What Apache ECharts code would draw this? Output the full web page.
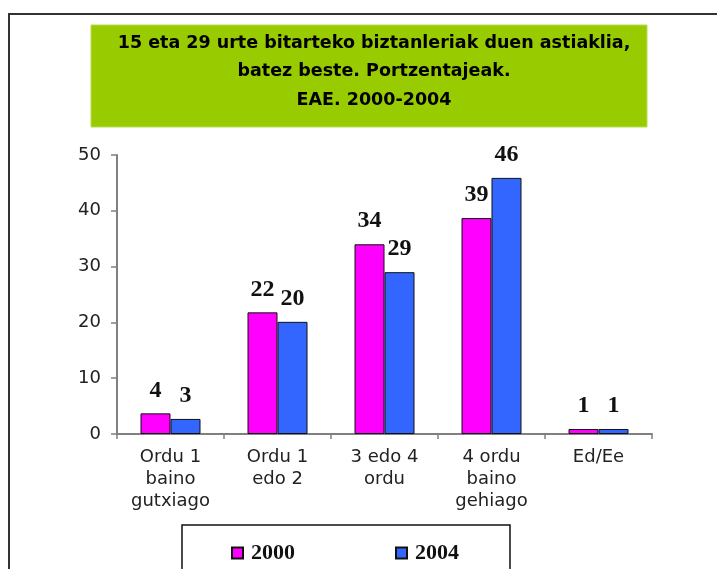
<!DOCTYPE html>
<html>
<head>
<meta charset="utf-8">
<script src="https://cdn.jsdelivr.net/npm/echarts@6/dist/echarts.min.js"></script>
<style>html,body{margin:0;padding:0;background:#fff}#c{width:717px;height:569px}</style>
</head>
<body>
<div id="c"></div>
<script>
const titleLines = ['15 eta 29 urte bitarteko biztanleriak duen astiaklia,', 'batez beste. Portzentajeak.', 'EAE. 2000-2004'];
const categories = ['Ordu 1\nbaino\ngutxiago', 'Ordu 1\nedo 2', '3 edo 4\nordu', '4 ordu\nbaino\ngehiago', 'Ed/Ee'];
const seriesNames = ['2000', '2004'];
const values2000 = [3.7, 21.8, 34.0, 38.7, 0.9];
const values2004 = [2.7, 20.1, 29.0, 45.9, 0.9];
const yTicks = { min: 0, max: 50, interval: 10 };

const chart = echarts.init(document.getElementById('c'), null, { renderer: 'canvas' });
const axisGrey = '#808080';
const labelStyle = {
  show: true, position: 'top', distance: 11,
  fontFamily: 'Liberation Serif', fontWeight: 'bold', fontSize: 24, color: '#111',
  formatter: p => Math.round(p.value)
};
chart.setOption({
  animation: false,
  backgroundColor: '#fff',
  graphic: [
    { type: 'rect', shape: { x: 9, y: 14, width: 760, height: 600 }, style: { fill: 'none', stroke: '#333', lineWidth: 2 }, z: 0 },
    { type: 'rect', shape: { x: 91, y: 25, width: 556, height: 102 }, style: { fill: '#99CC00', stroke: '#B8DC50', lineWidth: 1 }, z: 1 },
    { type: 'rect', shape: { x: 182, y: 525, width: 328, height: 80 }, style: { fill: '#fff', stroke: '#111', lineWidth: 1.5 }, z: 1 }
  ],
  title: {
    text: titleLines.join('\n'),
    left: 369, top: 24, textAlign: 'center',
    textStyle: { fontFamily: 'DejaVu Sans', fontWeight: 'bold', fontSize: 17.5, lineHeight: 28.5, color: '#000' }
  },
  legend: {
    data: seriesNames,
    left: 226, top: 537,
    itemWidth: 11, itemHeight: 11, itemGap: 100,
    icon: 'rect',
    textStyle: { fontFamily: 'Liberation Serif', fontWeight: 'bold', fontSize: 22, color: '#111', padding: [0, 0, 0, 3] },
    z: 5
  },
  grid: { left: 117, right: 65, top: 155, bottom: 135, containLabel: false },
  xAxis: {
    type: 'category', data: categories, boundaryGap: true,
    axisLine: { lineStyle: { color: axisGrey, width: 2 } },
    axisTick: { show: true, length: 5, lineStyle: { color: axisGrey, width: 1.5 } },
    axisLabel: { fontFamily: 'DejaVu Sans', fontSize: 18, lineHeight: 22, color: '#222', margin: 12, interval: 0 }
  },
  yAxis: {
    type: 'value', min: yTicks.min, max: yTicks.max, interval: yTicks.interval,
    axisLine: { show: true, lineStyle: { color: axisGrey, width: 2 } },
    axisTick: { show: true, length: 6, lineStyle: { color: axisGrey, width: 1.5 } },
    splitLine: { show: false },
    axisLabel: { fontFamily: 'DejaVu Sans', fontSize: 18, color: '#222', margin: 16 }
  },
  series: [
    { name: seriesNames[0], type: 'bar', data: values2000, barWidth: 30, barGap: '0%',
      itemStyle: { color: '#FF00FF', borderColor: '#111', borderWidth: 1 }, label: labelStyle },
    { name: seriesNames[1], type: 'bar', data: values2004, barWidth: 30, barGap: '0%',
      itemStyle: { color: '#3366FF', borderColor: '#111', borderWidth: 1 }, label: labelStyle }
  ]
});
</script>
</body>
</html>
